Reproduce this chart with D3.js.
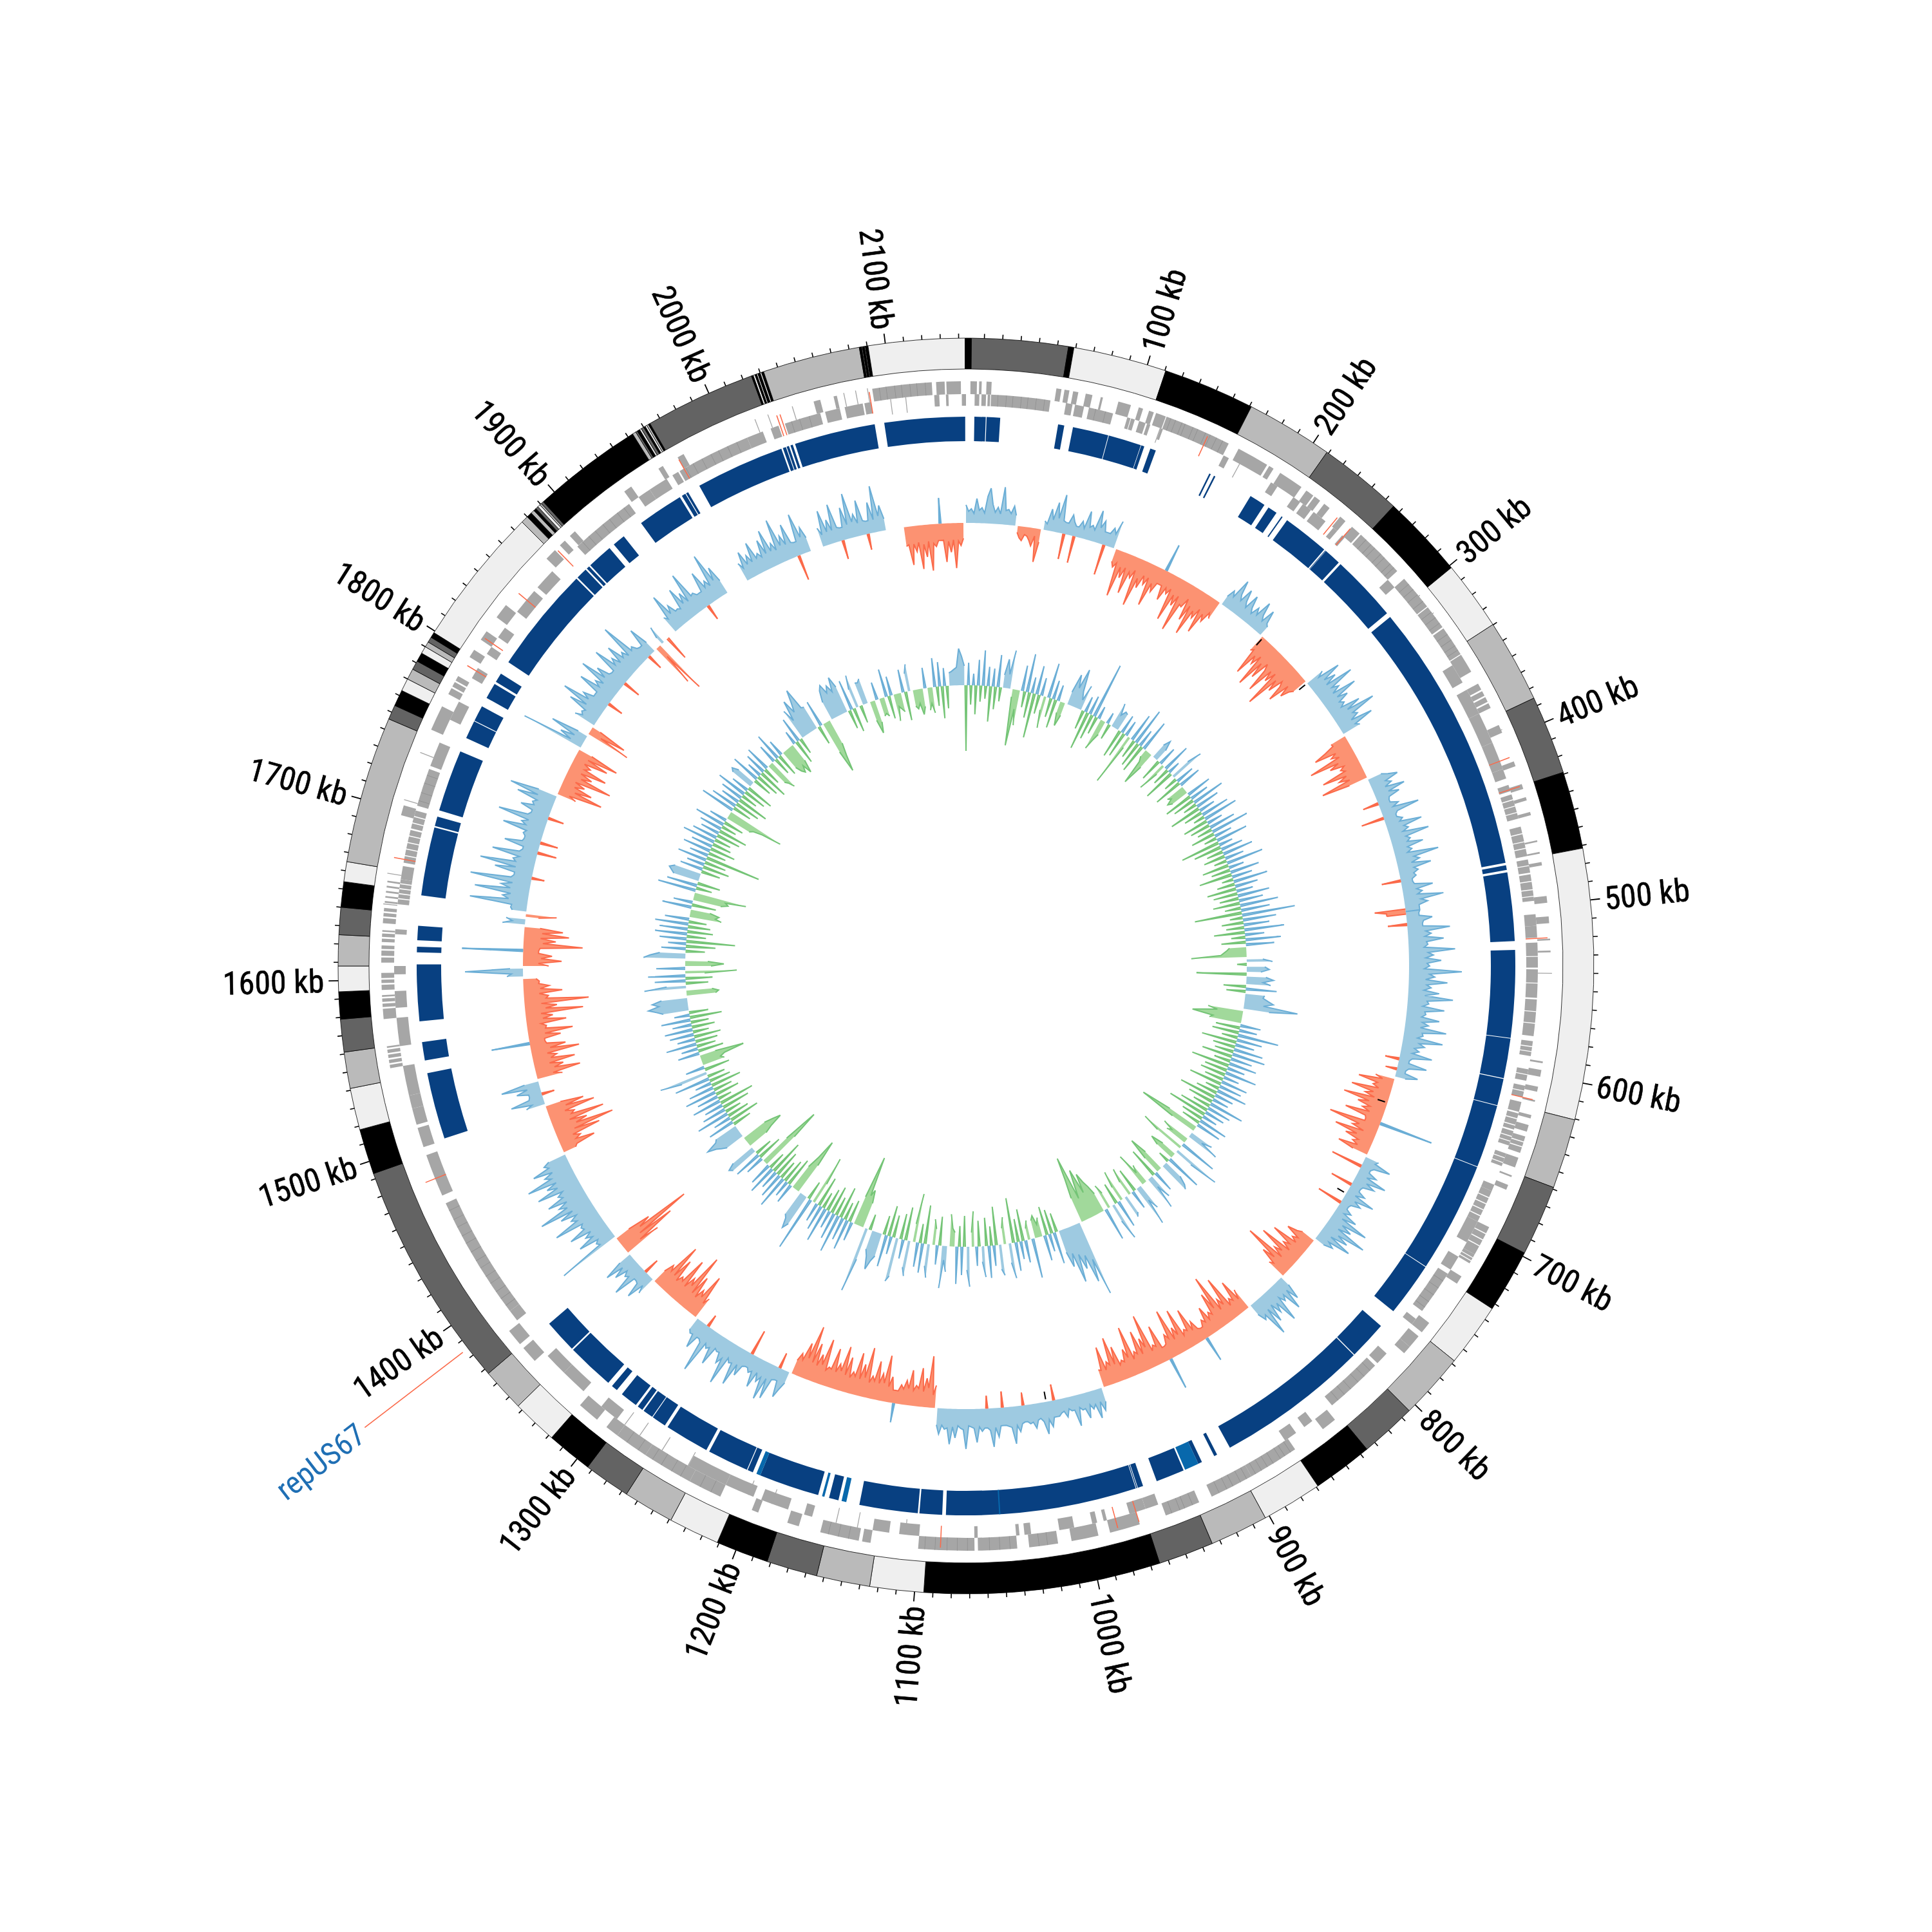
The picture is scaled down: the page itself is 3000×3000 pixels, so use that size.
<!DOCTYPE html>
<html><head><meta charset="utf-8">
<script src="https://cdnjs.cloudflare.com/ajax/libs/d3/7.8.5/d3.min.js"></script>
<style>html,body{margin:0;padding:0;background:#fff}text{font-family:"Liberation Sans Narrow","Roboto Condensed","DejaVu Sans Condensed",sans-serif}</style>
</head><body><svg id="c" width="3000" height="3000"></svg>
<script>
const genomeKb = 2144;
const majorTicks = [100,200,300,400,500,600,700,800,900,1000,1100,1200,1300,1400,1500,1600,1700,1800,1900,2000,2100];
const contigEnds = [3,56,59,110.5,161,209,255.6,301.5,339.8,385.6,429,471.6,620.5,659,698,733,768,804.6,835.7,869,902.4,934.5,965,1095,1124.6,1154,1182,1211,1239,1267,1292.7,1318,1343,1367,1493,1518,1541,1561,1579,1594,1608,1625,1640,1654,1665,1746,1754,1763,1770,1776,1781,1786,1790,1793,1796,1799,1876,1880,1883,1885,1886.5,1888,1889.5,1890.5,1892,1953,1955,1956,1957.5,1958.5,1960,1961,1962,1963,1964,2025,2026,2027,2028,2028.7,2030,2030.8,2032,2085.7,2087,2087.4,2088.6,2089,2090.5,2143.5,2144];
const contigShades = ["K","D","K","L","K","M","D","K","L","M","D","K","L","M","D","K","L","M","D","K","L","M","D","K","L","M","D","K","L","M","D","K","L","M","D","K","L","M","D","K","L","M","D","K","L","M","D","K","L","M","D","K","L","M","D","K","L","M","K","M","K","D","L","M","D","K","M","D","K","L","D","K","L","M","K","D","K","L","K","L","K","L","K","M","K","L","K","L","K","L","K"];
const shadeColors = {K:"#000000",D:"#636363",M:"#bababa",L:"#efefef"};
const forwardGenes = [[2.6,6.4],[7.7,9.2],[12,15],[53,56],[57.8,60.7],[62.9,66],[70.4,74.4],[79.4,80.7],[90,97.6],[102.4,105],[108.7,111.6],[113,119],[119.5,159],[165.5,184.6],[186,189],[193.6,208.5],[212,217],[218,222],[225,229],[237,241],[246,252],[253,283],[289,310],[310.6,325],[326,344],[344.5,356],[364,368],[369,372],[373,376],[377,380],[391,396],[414,417],[428,431],[436,438],[445,447],[462,463],[469,470],[475,477],[495,499],[507,511],[520,521],[527,528],[592,593],[597,601],[607,610],[615,616],[624,626],[630,634],[637,640],[640.6,643],[643.6,647],[650,656],[661,662],[667,670],[694,698],[698.6,702],[702.6,706],[706.6,712],[712,714],[714.5,716],[716.5,718],[727,732],[760,767],[770,778],[778,783],[839,848],[868,898],[898,924],[932,953],[969,987],[994,1010],[1018,1035],[1042,1065],[1067,1100],[1128,1133],[1135,1158],[1171,1178],[1196,1200],[1220,1240],[1240,1270],[1270,1290],[1290,1298],[1305,1318],[1355,1365],[1368,1378],[1548,1550],[1551,1553],[1554,1556],[1557,1559],[1560,1561],[1577,1583],[1584,1586],[1587,1589],[1590,1591],[1594,1597],[1598,1600],[1601,1604],[1610,1613],[1614,1617],[1618,1620],[1622,1624],[1625,1627],[1628,1629],[1633,1636],[1637,1639],[1640,1642],[1645,1646],[1648,1649],[1651,1652],[1654,1655],[1657,1658],[1697,1703],[1750,1765],[1773,1777],[1778,1781],[1782,1785],[1798,1803],[1810,1816],[1826,1835],[1871,1878],[1882,1886],[1890,1894],[1931,1936],[1955,1958],[1968,1972],[2054,2058],[2066,2068],[2089,2124],[2126.5,2131.5],[2132.5,2141]];
const reverseGenes = [[2141.5,2144],[5.2,8],[9.3,12],[13,14.5],[15,50.6],[60,64],[65.5,71],[74,88.8],[97.6,99.6],[100,102.3],[105,109],[110,112],[118.5,120],[159.5,163],[192,196.6],[208,213],[215,221],[223,232],[238,241],[245,247],[283,289],[347,359],[364,380],[380,399],[399,416],[416,422],[426,430],[432,435],[435.6,439],[439.5,443],[443.5,447],[452,456],[456.6,461],[461.5,465],[465.6,470],[472,475.5],[476,480],[481,485],[485.6,490],[490.6,494],[494.5,497],[505,512],[512,519],[522,530],[530.5,537],[538,546],[546.5,555],[556,563],[563.5,570],[570.5,578],[581,584],[584.6,587],[587.5,590],[598,601],[601.5,605],[608,611],[611.5,615],[618,624],[625,628],[628.6,632],[632.6,635],[636,639],[639.6,642],[642.5,645],[650,652.5],[653,655.5],[656,658],[670,674],[674,678],[678.6,682],[682.6,686],[686.6,690],[690.6,694],[694,708],[718,727],[730,757],[763,767],[790,798],[800,835],[850,856],[862,870],[955,963],[963,973],[987,989],[993,996],[1007,1016],[1033,1037],[1040,1042],[1065,1067],[1100,1112],[1118,1128],[1165,1170],[1180,1197],[1202,1220],[1220,1245],[1296,1308],[1322,1338],[1338,1352],[1380,1387],[1387,1462],[1467,1478],[1478,1493],[1498,1510],[1512,1522],[1522,1530],[1530,1548],[1560,1577],[1583,1593],[1603,1608],[1627,1630],[1645,1648],[1648.6,1651],[1651.6,1654],[1654.6,1657],[1657.6,1660],[1660,1668],[1670,1674],[1674.6,1678],[1678.6,1682],[1682.6,1686],[1686.6,1690],[1691,1694],[1694.6,1698],[1698.6,1702],[1705,1728],[1730,1745],[1760,1772],[1788,1795],[1805,1810],[1817,1824],[1836,1852],[1855,1868],[1889,1929],[1936,1944],[1944,1956],[1960,1964],[1965,2010],[2010,2020],[2025,2030],[2034,2056],[2059,2068],[2071,2082],[2083,2087],[2125,2128],[2132,2133.5]];
const forwardEdges = [122,125,129,131,136,139,144,147,151,155,257,261,264,269,272,277,280,293,297,301,306,314,318,322,330,334,338,341,871,875,878,883,887,891,895,901,905,910,914,919,936,941,944,949,1024,1029,1046,1052,1058,1071,1077,1083,1090,1096,1141,1147,1153,1226,1233,1246,1252,1259,1265,1275,1283,2093,2097,2102,2106,2111,2115,2120];
const reverseEdges = [19,24,28,33,37,42,47,78,84,735,740,745,750,754,804,809,814,820,825,830,1391,1396,1401,1407,1412,1418,1423,1429,1435,1440,1446,1451,1457,1708,1713,1719,1724,1893,1898,1903,1909,1914,1920,1925,1969,1974,1980,1986,1991,1997,2003,2038,2043,2049];
const thinForward = [302,315,394,540,1644,1662,1706,1735,2018,2026,2041,2072,2079,2086];
const thinReverse = [118,170,1108,1137,1150,1190,1205,1245,1263,1279,1290,2098.6,2107.7];
const redGeneMarks = [146,236,246,411,429,519.5,615,969,982,1087,1478,1672,1793,1812,1845,1879,1968,2031,2033,2087];
const conservedBlocks = [[5.2,12.3],[12.8,21.3],[57.5,61.4],[66.9,89.4],[89.8,110.5],[110.8,112.8],[116.8,120.4],[156.6,157.6],[159.8,160.8],[185.8,196],[199,205],[208.8,209.6],[213,242.4],[243.2,243.6],[243.8,254.5],[256,298],[301,471.5],[473,476],[477.5,520.5],[526,580.8],[581.2,606.2],[606.7,623.5],[623.9,663.5],[663.9,733.5],[733.9,767.9],[779.8,804],[804.6,901],[910,912],[920.5,923],[933,951],[960,963.4],[963.8,964.4],[964.8,1084.5],[1086.8,1101],[1102,1138.7],[1152,1158],[1165,1203],[1208,1211.5],[1212,1238],[1240,1268],[1270,1279],[1279.5,1286],[1287,1290.5],[1292,1303],[1307,1311],[1314,1344],[1345,1366],[1499,1541],[1549,1560.5],[1573.5,1609],[1616.5,1620],[1624,1633],[1652,1695],[1696,1702],[1706,1745],[1754,1765.5],[1766,1776],[1782,1792],[1793.5,1799.5],[1808,1875],[1876,1883],[1884,1886],[1887,1903],[1906.5,1914.5],[1928,1957],[1958.5,1961],[1961.5,1963],[1971,2027],[2028,2030],[2030.5,2032],[2033,2034.5],[2036,2087],[2093,2143.5]];
const brightBlocks = [[923,932],[1050.6,1051.4],[1147,1150],[1161,1162.5],[1203,1205.6]];
const skewBlackMarks = [251,299.8,643,720,1010];
const skewValues = [
28,18,22,15,38,20,24,16,42,55,30,18,26,16,58,22,24,18,30,16,-10,-18,-22,-12,-14,-20,-28,-12,-52,-20,14,10,34,18,46,22,60,20,-40,18,32,22,-42,16,26,16,44,20,24,18,
50,24,36,20,-48,20,30,22,44,-20,-28,-20,-72,-24,-40,-22,-62,-26,-34,-20,-76,-30,-44,-22,-35,-22,-66,-28,-40,-24,44,-24,-46,-24,-32,-22,-72,-28,-44,-26,-82,-36,-38,-22,-56,-30,-76,-34,-44,-26,
-64,-30,-40,-22,-30,15,28,20,52,30,22,44,26,18,42,24,16,30,20,46,26,18,40,20,16,-28,-24,-66,-30,-42,-25,-76,-32,-56,-26,-36,-72,-30,-46,-28,-86,-34,-52,-28,-36,-60,-26,-44,-30,-24,
30,20,55,24,42,22,66,26,36,22,60,24,40,22,28,20,50,26,70,30,36,22,56,24,30,-25,-24,-40,-60,-26,-36,-24,-76,-30,-46,-24,-32,-26,-66,-28,-42,-26,-74,-30,22,32,46,24,32,20,
50,22,38,20,-25,18,30,20,60,24,-36,20,28,22,56,26,32,22,62,24,30,24,48,22,28,20,68,28,36,22,52,24,30,22,25,-30,18,20,48,22,30,22,62,26,36,22,-48,22,-30,20,
40,26,-30,24,66,28,36,26,55,28,30,24,72,30,38,26,50,28,32,24,82,32,40,26,60,28,35,24,48,26,70,30,33,24,58,28,30,24,52,26,36,24,65,28,30,22,62,26,35,20,
28,18,50,20,-22,16,45,18,-18,14,35,16,-30,-18,-55,-24,-30,-20,-62,-26,-38,-22,-70,-28,-45,-24,-35,-22,-60,-26,85,-24,-80,-30,-40,-20,-65,-28,-45,-22,-30,-20,-50,-24,22,18,45,20,-50,16,
30,16,50,20,35,18,-35,16,28,14,48,18,30,16,-40,14,24,14,38,16,62,22,40,20,70,26,45,18,55,20,30,16,-22,-30,-45,-22,-30,-20,-60,-26,-35,-20,-70,-28,-40,-22,-85,-30,-50,-24,
-30,16,40,20,52,22,30,20,60,24,38,20,48,22,65,26,32,18,-35,-20,-55,-24,-30,-20,-72,-28,-40,-24,-85,-32,-60,-26,-32,-22,-45,-22,-28,-18,40,-20,-35,-22,-60,-26,-30,-22,-68,-28,-42,-24,
-75,-30,-38,-24,50,-22,-60,-28,-32,-24,-85,-34,-50,-26,-65,-30,-35,-24,-78,-30,-45,-26,-30,-24,-55,-28,-72,-30,-36,-24,-62,-26,-28,22,35,20,45,22,28,20,40,24,25,20,48,22,22,18,30,20,
22,26,-25,26,40,28,50,30,24,26,38,28,30,26,-20,28,40,30,58,32,30,28,-25,28,45,30,60,34,-20,30,35,28,52,30,28,26,62,32,30,26,45,28,55,30,32,26,40,26,-35,-20,
-80,-30,-45,-24,-60,-28,-32,-24,-55,-26,-38,-24,-30,-20,30,-20,-40,-24,-72,-28,-42,-26,-60,-28,-35,-24,-78,-30,-50,-26,-66,-28,-34,-24,-55,-26,-70,-30,-40,-26,-62,-28,-30,-24,-72,-30,-45,-26,-60,-28,
-85,-32,-55,-26,-35,-22,18,30,45,20,-25,22,55,24,60,26,35,22,48,24,28,22,-40,24,42,26,62,28,30,24,70,30,40,24,25,22,52,26,30,24,75,28,-20,24,45,24,25,20,-35,-24,
-70,-30,-40,-24,-58,-26,-90,-34,-45,-26,-72,-30,-35,-24,-60,-28,-80,-30,-38,-22,30,18,45,22,-25,20,55,24,28,20,40,22,50,20,-60,-28,-92,-34,-125,-40,-60,-24,100,26,30,24,55,28,38,26,
60,32,35,30,75,34,42,30,55,32,85,36,48,32,62,34,40,30,70,34,50,32,78,36,45,30,60,32,38,28,-20,-24,-55,-26,-35,-24,-70,-30,-95,-36,-55,-28,-85,-34,-40,-26,-75,-30,-60,-24,
30,20,52,22,-20,20,38,20,60,22,-40,-26,-70,-30,-45,-24,-65,-28,-38,-24,-75,-30,-55,-26,60,-24,-50,-26,-70,-28,-30,-22,-62,-26,-42,-24,-90,-32,-50,-26,-100,-34,-38,-24,-60,-26,-40,-24,-25,-20,
25,18,90,20,-40,-24,-60,-28,-45,-24,95,-26,-92,-30,-50,-26,-70,-28,-60,-24,35,20,30,-20,-48,22,25,24,90,30,40,28,85,30,45,28,95,32,-20,28,60,28,85,30,35,26,70,28,-30,24,
55,28,-28,26,30,26,65,30,38,28,78,32,-25,28,48,28,32,26,60,28,75,30,-30,-18,-70,-24,-50,-20,-35,-18,-75,-24,-40,-20,-60,-22,-30,-18,-55,-20,-68,-22,100,20,40,18,60,16,-70,-20,
-60,-14,35,24,28,24,55,28,72,30,42,26,-25,26,60,28,38,26,70,30,48,28,-28,26,65,30,40,26,55,28,35,24,78,26,30,22,-25,20,48,18,-70,-20,-88,12,30,0,-40,0,0,0,
28,22,62,26,38,24,25,22,55,26,42,24,70,28,30,24,-25,24,55,26,35,24,75,28,48,22,0,0,0,0,0,0,0,0,30,20,45,22,35,22,52,24,30,22,48,24,60,24,35,22,
70,26,40,24,55,24,-40,22,65,26,40,22,0,0,0,0,30,18,55,20,38,20,60,22,-30,20,50,22,70,24,35,20,55,22,-25,20,48,20,72,24,40,18,0,0,0,0,0,0,-30,-28,
-60,-28,-40,-26,-68,-30,-50,-26,-72,-30,-35,-26,40,-26,-60,-28,-45,-26,-70,-28,-35,-24];
const gcValues = [
-102,35,-30,18,-45,40,-25,55,-20,30,-55,28,-35,50,-22,20,45,22,60,-12,-88,-30,-55,40,-25,60,-40,25,-70,45,-30,28,-22,-50,55,-30,30,-45,25,-18,-38,-20,20,50,30,62,28,15,40,-30,
25,-60,30,-40,88,-28,20,-50,-35,-22,18,-25,40,22,30,28,-45,30,-40,25,-83,-18,45,-30,60,-40,28,-45,50,-12,-20,-58,-25,24,35,20,-35,30,-48,-16,45,-28,20,-50,32,55,-22,30,-45,36,
-30,-25,-35,-28,40,-45,30,-35,52,-22,38,-50,26,-30,45,-18,55,-40,25,-32,42,-24,60,-38,28,-20,50,-62,22,-44,35,-26,48,-34,30,-20,58,-42,24,-30,46,-52,32,-18,54,-28,36,-46,26,-38,
50,-30,38,-42,60,-25,45,-74,83,-20,52,-34,40,-28,62,-48,30,-22,55,-38,44,-26,-30,-35,-40,-86,25,40,-15,28,35,22,-78,30,42,26,38,-35,48,-30,30,28,36,45,30,84,40,-55,-40,-60,
-78,-45,-50,32,-38,28,-42,64,-25,40,-55,30,-35,46,-30,52,-48,34,-26,44,-60,28,-36,50,-40,25,-30,42,-52,36,-22,48,-34,30,-58,26,-40,55,-28,38,-46,32,-62,24,-35,46,-30,40,-50,-98,
-40,38,22,52,-45,-28,-35,60,-73,-45,76,30,-25,-45,-30,58,-18,30,44,50,-35,-62,-28,34,-48,40,18,55,-32,-20,-55,42,25,66,-38,30,-46,-24,30,36,-50,-24,44,-34,60,28,-25,-40,52,-30,
-45,-55,-70,-40,-80,-60,-35,-105,-70,-40,119,60,95,50,70,45,88,40,60,35,-30,50,-38,28,-45,40,-30,-20,-35,-28,62,-30,-18,35,-50,28,-36,45,-70,55,30,-42,-25,48,38,-60,32,-30,50,-44,
48,24,-40,30,-55,-22,62,36,-48,44,-32,58,-22,-28,-50,40,22,66,-45,30,-25,-40,52,34,-60,46,-30,38,-76,-28,55,42,-52,30,-40,60,69,-35,28,-48,50,-30,36,45,60,40,30,-25,50,103,
-40,-60,-50,-112,-45,30,-35,48,-28,36,-50,60,-30,42,-44,28,-36,55,-26,40,-48,30,-34,-78,87,-30,50,60,45,40,-50,-92,-60,-40,32,-46,26,-38,52,-30,40,-42,30,-55,46,-28,36,-60,-106,-50,
30,-40,44,-28,45,50,38,-32,-45,-66,-55,-40,30,38,45,58,40,36,-30,42,-48,28,-35,52,-26,38,-44,30,-55,46,-22,34,-38,50,-30,40,-48,26,-34,56,-28,42,76,-40,30,-35,-30,-38,-70,-25,
34,-40,26,-30,48,-35,28,-42,38,-25,44,-36,30,-28,46,-50,24,-30,40,50,62,45,55,40,-45,-50,-40,65,30,-35,48,-42,58,-30,-80,45,-40,-60,-35,65,55,40,-30,38,-46,28,-76,42,-30,50,
-40,44,-35,52,-28,38,-50,-40,-45,-30,46,-38,30,-44,-55,-50,-82,60,-25,48,-36,40,45,50,42,-30,36,-42,28,-34,46,-87,30,-28,44,-40,34,-30,52,-26,40,-38,30,-46,36,-24,48,-32,28,-40,
-45,-60,-91,55,-30,42,-40,30,-50,36,-26,48,-36,28,-44,35,40,30,-30,46,-38,24,-48,34,-28,40,-35,-40,-50,30,-28,44,-36,26,-30,-40,-45,-35,-50,-30,22,-38,40,-26,50,30,62,40,55,74,
40,38,-30,42,-50,-85,-60,-40,30,48,55,40,50,38,60,42,-30,48,-38,30,52,-28,36,35,40,-30,-52,-35,28,-28,-25,-30,44,-36,30,-42,-20,-25,-30,36,-45,28,42,-25,-30,-22,-40,-28,32,-35,
-25,-40,45,-30,38,-50,28,-35,20,22,25,28,57,45,30];
const skewStepKb = 2, gcStepKb = 3;
const plasmidLabel = "repUS67", plasmidKb = 1384.6;

const svg = d3.select("#c");
const g = svg.append("g").attr("transform","translate(1500,1500)");
const theta = d3.scaleLinear().domain([0,genomeKb]).range([0,2*Math.PI]);
const arc = d3.arc();
const seg = (p,r0,r1)=>arc({innerRadius:r0,outerRadius:r1,startAngle:theta(p[0]),endAngle:theta(p[1])});
const polar=(kb,r)=>{const a=theta(kb)-Math.PI/2;return [r*Math.cos(a),r*Math.sin(a)];};

// contig ring
let prev=0;
contigEnds.forEach((e,i)=>{
  const c=shadeColors[contigShades[i]];
  g.append("path").attr("d",seg([prev,e],927,975)).attr("fill",c).attr("stroke","#000").attr("stroke-width",0.8);
  prev=e;
});
// ticks
const minor=d3.range(10,genomeKb,10).filter(k=>k%100!==0);
minor.forEach(k=>{const a=polar(k,975),b=polar(k,982);g.append("line").attr("x1",a[0]).attr("y1",a[1]).attr("x2",b[0]).attr("y2",b[1]).attr("stroke","#000").attr("stroke-width",1.6);});
majorTicks.forEach(k=>{
  const a=polar(k,975),b=polar(k,990);
  g.append("line").attr("x1",a[0]).attr("y1",a[1]).attr("x2",b[0]).attr("y2",b[1]).attr("stroke","#000").attr("stroke-width",1.8);
  const deg=theta(k)*180/Math.PI,p=polar(k,997),right=deg<180;
  g.append("text").attr("transform",`translate(${p[0]},${p[1]}) rotate(${right?deg-90:deg-270})`)
   .attr("text-anchor",right?"start":"end").attr("dy","0.35em").attr("font-size",50).attr("stroke","#000").attr("stroke-width",0.6).attr("fill","#000").text(k+" kb");
});
// genes
const gray="#a6a6a6";
forwardGenes.forEach(p=>g.append("path").attr("d",seg(p,888,908)).attr("fill",gray));
reverseGenes.forEach(p=>g.append("path").attr("d",seg(p,870,888)).attr("fill",gray));
forwardEdges.forEach(k=>g.append("path").attr("d",seg([k,k+0.3],888,908)).attr("fill","#8f8f8f"));
reverseEdges.forEach(k=>g.append("path").attr("d",seg([k,k+0.3],870,888)).attr("fill","#8f8f8f"));
thinForward.forEach(k=>g.append("path").attr("d",seg([k,k+0.5],888,910)).attr("fill",gray));
thinReverse.forEach(k=>g.append("path").attr("d",seg([k,k+0.5],864,888)).attr("fill",gray));
redGeneMarks.forEach(k=>g.append("path").attr("d",seg([k-0.3,k+0.3],870,904)).attr("fill","#fb6a4a"));
// conserved blocks
conservedBlocks.forEach(p=>g.append("path").attr("d",seg(p,815,853)).attr("fill","#084081"));
brightBlocks.forEach(p=>g.append("path").attr("d",seg(p,815,853)).attr("fill","#0868ac"));

// signed tracks; bridge keeps a band unbroken across a lone opposite-sign spike
function track(values,step,base,bridge,posFill,posLine,negFill,negLine){
  const r=d3.scaleLinear().domain([-100,100]).range([base-100,base+100]);
  const area=d3.areaRadial().angle(d=>theta(d.k)).innerRadius(r(0)).outerRadius(d=>r(d.v));
  const line=d3.lineRadial().angle(d=>theta(d.k)).radius(d=>r(d.v));
  [[v=>v>0,posFill,posLine],[v=>v<0,negFill,negLine]].forEach(([test,fill,stroke])=>{
    const runs=[];let cur=null;
    values.forEach((v,i)=>{
      const a=values[i-1],b=values[i+1];
      let val=null;
      if(test(v)) val=v;
      else if(bridge&&v!==0&&test(a)&&test(b)) val=Math.abs(a)<Math.abs(b)?a:b;
      if(val!==null){if(!cur){cur=[];runs.push(cur);}cur.push({v:val,k:i*step});}else cur=null;
    });
    runs.forEach(run=>{
      const first=run[0],last=run[run.length-1],w=run.length===1?step*0.4:0;
      const pts=[{k:first.k-w,v:0},...run,{k:last.k+w,v:0}];
      g.append("path").attr("d",area(pts)).attr("fill",fill);
      g.append("path").attr("d",line(run.length===1?pts:run)).attr("fill","none").attr("stroke",stroke).attr("stroke-width",2);
    });
  });
  if(bridge) values.forEach((v,i)=>{
    const a=values[i-1],b=values[i+1];
    if(v!==0&&a*v<0&&b*v<0){
      const p=polar(i*step,r(0)),q=polar(i*step,r(v));
      g.append("line").attr("x1",p[0]).attr("y1",p[1]).attr("x2",q[0]).attr("y2",q[1]).attr("stroke",v>0?posLine:negLine).attr("stroke-width",2);
    }
  });
}
track(skewValues,skewStepKb,688,true,"#9ecae1","#6baed6","#fc9272","#fb6a4a");
track(gcValues,gcStepKb,436,false,"#9ecae1","#6baed6","#a1d99b","#74c476");
skewBlackMarks.forEach(k=>{const a=polar(k,672),b=polar(k,684);g.append("line").attr("x1",a[0]).attr("y1",a[1]).attr("x2",b[0]).attr("y2",b[1]).attr("stroke","#000").attr("stroke-width",2);});

// plasmid marker
const la=polar(plasmidKb,985),lb=polar(plasmidKb,1177),lp=polar(plasmidKb,1184);
g.append("line").attr("x1",la[0]).attr("y1",la[1]).attr("x2",lb[0]).attr("y2",lb[1]).attr("stroke","#fb6a4a").attr("stroke-width",1.6);
const ld=theta(plasmidKb)*180/Math.PI-270;
g.append("text").attr("transform",`translate(${lp[0]},${lp[1]}) rotate(${ld})`).attr("text-anchor","end").attr("dy","0.35em").attr("font-size",48).attr("fill","#1f6fb4").text(plasmidLabel);
</script></body></html>
